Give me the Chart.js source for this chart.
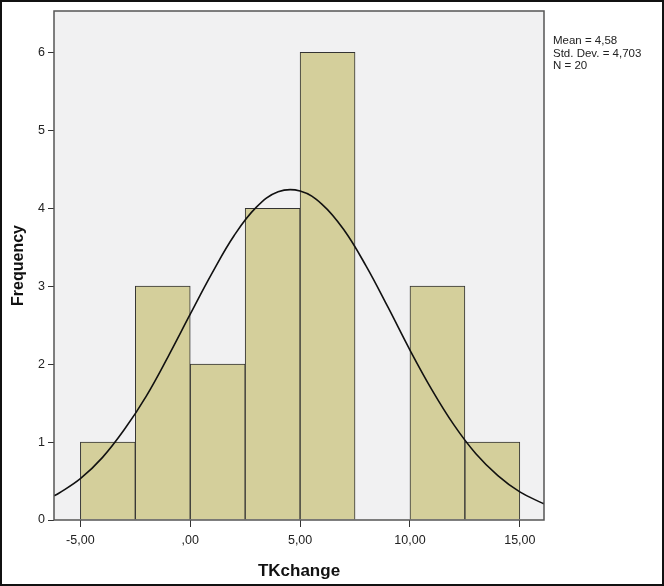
<!DOCTYPE html>
<html>
<head>
<meta charset="utf-8">
<script src="https://cdn.jsdelivr.net/npm/chart.js@4/dist/chart.umd.min.js"></script>
<style>
  body { margin: 0; background: #fff; }
  #wrap { width: 664px; height: 586px; position: relative; }
</style>
</head>
<body>
<div id="wrap"><canvas id="hist"></canvas></div>
<script>
(function(){
    'use strict';

    // ---- data ----
    const binCenters = [-3.75, -1.25, 1.25, 3.75, 6.25, 8.75, 11.25, 13.75];
    const binCounts  = [1, 3, 2, 4, 6, null, 3, 1];

    // normal curve as it appears on the plot
    const curveX = [-6.2, -6, -5, -4, -3, -2, -1, 0, 1, 2, 3, 4, 5, 6, 7, 8, 9, 10, 11, 12, 13, 14, 15, 16, 16.1];
    const curveY = [0.31, 0.34, 0.53, 0.80, 1.16, 1.59, 2.10, 2.64, 3.17, 3.65, 4.01, 4.21, 4.22, 4.05, 3.72, 3.26, 2.73, 2.18, 1.67, 1.22, 0.85, 0.57, 0.36, 0.22, 0.21];

    const xTicks      = [-5, 0, 5, 10, 15];
    const xTickLabels = ['-5,00', ',00', '5,00', '10,00', '15,00'];
    const yTicks      = [0, 1, 2, 3, 4, 5, 6];

    const statLines = ['Mean = 4,58', 'Std. Dev. = 4,703', 'N = 20'];

    const fontFam = '"Liberation Sans", Arial, sans-serif';

    // plot bg, frame, outer border, stats text
    const decor = {
        id: 'decor',
        beforeDraw(chart){
            const ctx = chart.ctx, a = chart.chartArea;
            ctx.save();
            ctx.fillStyle = '#fff';
            ctx.fillRect(0, 0, chart.width, chart.height);
            ctx.fillStyle = '#f1f1f2';
            ctx.fillRect(a.left, a.top, a.right - a.left, a.bottom - a.top);
            ctx.restore();
        },
        afterDraw(chart){
            const ctx = chart.ctx, a = chart.chartArea;
            ctx.save();
            ctx.strokeStyle = '#555';
            ctx.lineWidth = 1.5;
            ctx.strokeRect(a.left, a.top, a.right - a.left, a.bottom - a.top);
            ctx.strokeStyle = '#111';
            ctx.lineWidth = 2;
            ctx.strokeRect(1, 1, chart.width - 2, chart.height - 2);
            ctx.fillStyle = '#222';
            ctx.font = '11.5px ' + fontFam;
            ctx.textBaseline = 'middle';
            for (let i = 0; i < statLines.length; i++){
                ctx.fillText(statLines[i], a.right + 9, 41 + i * 12.5);
            }
            ctx.restore();
        }
    };

    new Chart('hist', {
        data: {
            datasets: [{
                type: 'line',
                data: curveX.map((x, i) => ({x: x, y: curveY[i]})),
                borderColor: '#111',
                borderWidth: 1.6,
                pointRadius: 0,
                tension: 0.4,
                fill: false,
                order: 0
            }, {
                type: 'bar',
                data: binCenters.map((x, i) => ({x: x, y: binCounts[i]})),
                backgroundColor: '#d4cf9b',
                borderColor: '#333',
                borderWidth: 1,
                barPercentage: 1,
                categoryPercentage: 1,
                order: 1
            }]
        },
        options: {
            responsive: true,
            maintainAspectRatio: false,
            animation: false,
            layout: { padding: { top: 11, right: 120, left: 0, bottom: 0 } },
            plugins: { legend: { display: false }, tooltip: { enabled: false } },
            scales: {
                x: {
                    type: 'linear',
                    min: -6.2,
                    max: 16.1,
                    offset: false,
                    afterBuildTicks: s => { s.ticks = xTicks.map(v => ({value: v})); },
                    afterFit: s => { s.height = 66; },
                    grid: { offset: false, drawOnChartArea: false, drawTicks: true, tickLength: 7, color: '#333' },
                    border: { display: false },
                    ticks: {
                        color: '#222',
                        font: { family: fontFam, size: 12.5 },
                        padding: 6,
                        maxRotation: 0,
                        callback: v => xTickLabels[xTicks.indexOf(v)]
                    },
                    title: {
                        display: true,
                        text: 'TKchange',
                        color: '#111',
                        font: { family: fontFam, size: 17, weight: 'bold' },
                        padding: { top: 4 }
                    }
                },
                y: {
                    min: 0,
                    max: 6.53,
                    afterBuildTicks: s => { s.ticks = yTicks.map(v => ({value: v})); },
                    afterFit: s => { s.width = 54; },
                    grid: { offset: false, drawOnChartArea: false, drawTicks: true, tickLength: 6, color: '#333' },
                    border: { display: false },
                    ticks: {
                        color: '#222',
                        font: { family: fontFam, size: 12.5 },
                        padding: 3
                    },
                    title: {
                        display: true,
                        text: 'Frequency',
                        color: '#111',
                        font: { family: fontFam, size: 16, weight: 'bold' },
                        padding: { top: 9, bottom: 2 }
                    }
                }
            }
        },
        plugins: [decor]
    });
}());
</script>
</body>
</html>
